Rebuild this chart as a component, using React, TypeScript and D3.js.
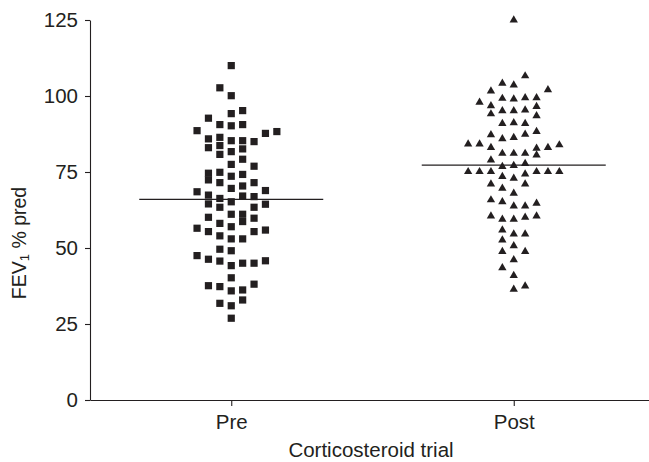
import { useEffect, useRef } from "react";
import * as d3 from "d3";

const WIDTH = 649;
const HEIGHT = 462;
const MARGIN = { top: 20, right: -6, bottom: 62, left: 90 };
const INK = "#231f20";
const FONT = "'Liberation Sans', Arial, Helvetica, sans-serif";
const FONT_SIZE = 20.5;
const COL_STEP = 11.4; // horizontal spacing of the scatter columns
const MEAN_HALF_WIDTH = 92;

const groups = ["Pre", "Post"];
const yTicks = [0, 25, 50, 75, 100, 125];

// FEV1 % predicted, before the corticosteroid trial, with the column each point sits in
const preFev1 = [
  110.0, 102.7, 100.1, 95.2, 94.2, 92.7, 90.6, 90.2, 90.6, 88.6,
  88.3, 87.7, 86.4, 85.9, 85.3, 85.3, 85.0, 83.7, 83.0, 82.6,
  81.7, 80.8, 79.2, 77.5, 76.9, 74.9, 74.6, 74.2, 73.6, 72.4,
  71.5, 71.5, 70.4, 69.6, 68.9, 68.5, 67.4, 67.1, 66.9, 66.3,
  65.2, 64.5, 64.4, 63.4, 63.4, 61.1, 61.1, 60.1, 59.8, 58.7,
  58.1, 57.0, 56.5, 55.9, 55.4, 55.4, 54.0, 53.0, 53.0, 49.6,
  49.1, 47.5, 46.3, 45.8, 45.7, 45.0, 45.0, 44.2, 40.2, 38.1,
  37.6, 37.3, 36.2, 35.9, 32.9, 31.8, 31.0, 26.9,
];
const preColumn = [
  0, -1, 0, 1, 0, -2, -1, 0, 1, -3,
  4, 3, -1, -2, 0, 1, 2, -1, -2, 1,
  0, -1, 1, 0, 2, -1, -2, 1, 0, -2,
  -1, 2, 1, 0, 3, -3, -2, 1, 2, -1,
  0, -2, 3, -1, 2, 0, 1, -2, 2, 1,
  -1, 0, -3, 3, -2, 2, -1, 0, 1, -1,
  0, -3, -2, 3, -1, 1, 2, 0, 0, 2,
  -2, -1, 1, 0, 1, -1, 0, 0,
];

// after the trial
const postFev1 = [
  125.0, 106.6, 104.2, 103.6, 102.0, 101.6, 99.2, 99.0, 99.4, 99.4,
  97.9, 96.8, 94.1, 96.5, 93.5, 95.1, 95.1, 95.4, 90.9, 91.2,
  90.9, 87.2, 85.9, 86.3, 87.4, 88.3, 84.2, 84.2, 83.0, 81.1,
  81.1, 81.1, 82.8, 80.6, 83.0, 83.9, 78.9, 76.8, 77.1, 77.8,
  75.1, 75.1, 75.1, 75.1, 75.1, 75.1, 73.5, 72.9, 74.3, 71.0,
  69.6, 71.0, 68.0, 65.8, 65.2, 63.8, 63.8, 64.7, 60.5, 59.4,
  59.4, 60.1, 60.5, 55.9, 54.6, 54.6, 52.6, 50.7, 48.8, 48.8,
  46.1, 43.5, 40.9, 36.4, 37.5,
];
const postColumn = [
  0, 1, -1, 0, 3, -2, -1, 0, 1, 2,
  -3, -2, -2, 2, 2, -1, 0, 1, -1, 0,
  1, -2, -1, 0, 1, 2, -4, -3, -2, -1,
  0, 1, 2, 2, 3, 4, -2, -1, 0, 1,
  -4, -3, -2, 2, 3, 4, -1, 0, 1, -2,
  -1, 1, 0, -2, -1, 0, 1, 2, -2, -1,
  0, 1, 2, -1, 0, 1, -1, 0, -1, 1,
  0, -1, 0, 0, 1,
];

export default function App() {
  const axesRef = useRef<SVGGElement>(null);
  const boundsWidth = WIDTH - MARGIN.left - MARGIN.right;
  const boundsHeight = HEIGHT - MARGIN.top - MARGIN.bottom;

  const xScale = d3.scalePoint().domain(groups).range([0, boundsWidth]).padding(0.5);
  const yScale = d3.scaleLinear().domain([0, 125]).range([boundsHeight, 0]);

  const squarePath = d3.symbol().type(d3.symbolSquare).size(52)() as string;
  const trianglePath = d3.symbol().type(d3.symbolTriangle).size(30)() as string;

  const series = [
    { name: "Pre", values: preFev1, cols: preColumn, path: squarePath },
    { name: "Post", values: postFev1, cols: postColumn, path: trianglePath },
  ];

  useEffect(() => {
    const g = d3.select(axesRef.current);
    g.selectAll("*").remove();

    const yAxis = d3.axisLeft(yScale).tickValues(yTicks).tickSize(5).tickSizeOuter(0).tickPadding(7);
    g.append("g").call(yAxis);

    const xAxis = d3.axisBottom(xScale).tickSize(6).tickSizeOuter(0).tickPadding(8);
    g.append("g").attr("transform", `translate(0,${boundsHeight})`).call(xAxis);

    g.selectAll("path.domain, line").attr("stroke", INK).attr("stroke-width", 1.1);
    g.selectAll("g").attr("font-size", FONT_SIZE).attr("font-family", FONT);
    g.selectAll("text").attr("fill", INK);
  }, [boundsHeight]);

  return (
    <svg
      width={WIDTH}
      height={HEIGHT}
      style={{ position: "absolute", left: 0, top: 0, background: "#fff" }}
    >
      <g transform={`translate(${MARGIN.left},${MARGIN.top})`}>
        {series.map((s) => {
          const cx = xScale(s.name) ?? 0;
          const mean = d3.mean(s.values) ?? 0;
          return (
            <g key={s.name}>
              {s.values.map((v, i) => (
                <path
                  key={i}
                  d={s.path}
                  transform={`translate(${cx + s.cols[i] * COL_STEP},${yScale(v)})`}
                  fill={INK}
                />
              ))}
              <line
                x1={cx - MEAN_HALF_WIDTH}
                x2={cx + MEAN_HALF_WIDTH}
                y1={yScale(mean)}
                y2={yScale(mean)}
                stroke={INK}
                strokeWidth={1.2}
              />
            </g>
          );
        })}
        <g ref={axesRef} />
      </g>
      <text
        x={371}
        y={457}
        textAnchor="middle"
        fontFamily={FONT}
        fontSize={FONT_SIZE}
        fill={INK}
      >
        Corticosteroid trial
      </text>
      <text
        transform="translate(26,243) rotate(-90)"
        textAnchor="middle"
        fontFamily={FONT}
        fontSize={19.5}
        fill={INK}
      >
        FEV
        <tspan fontSize={13} dy={3}>1</tspan>
        <tspan dy={-3}> % pred</tspan>
      </text>
    </svg>
  );
}
